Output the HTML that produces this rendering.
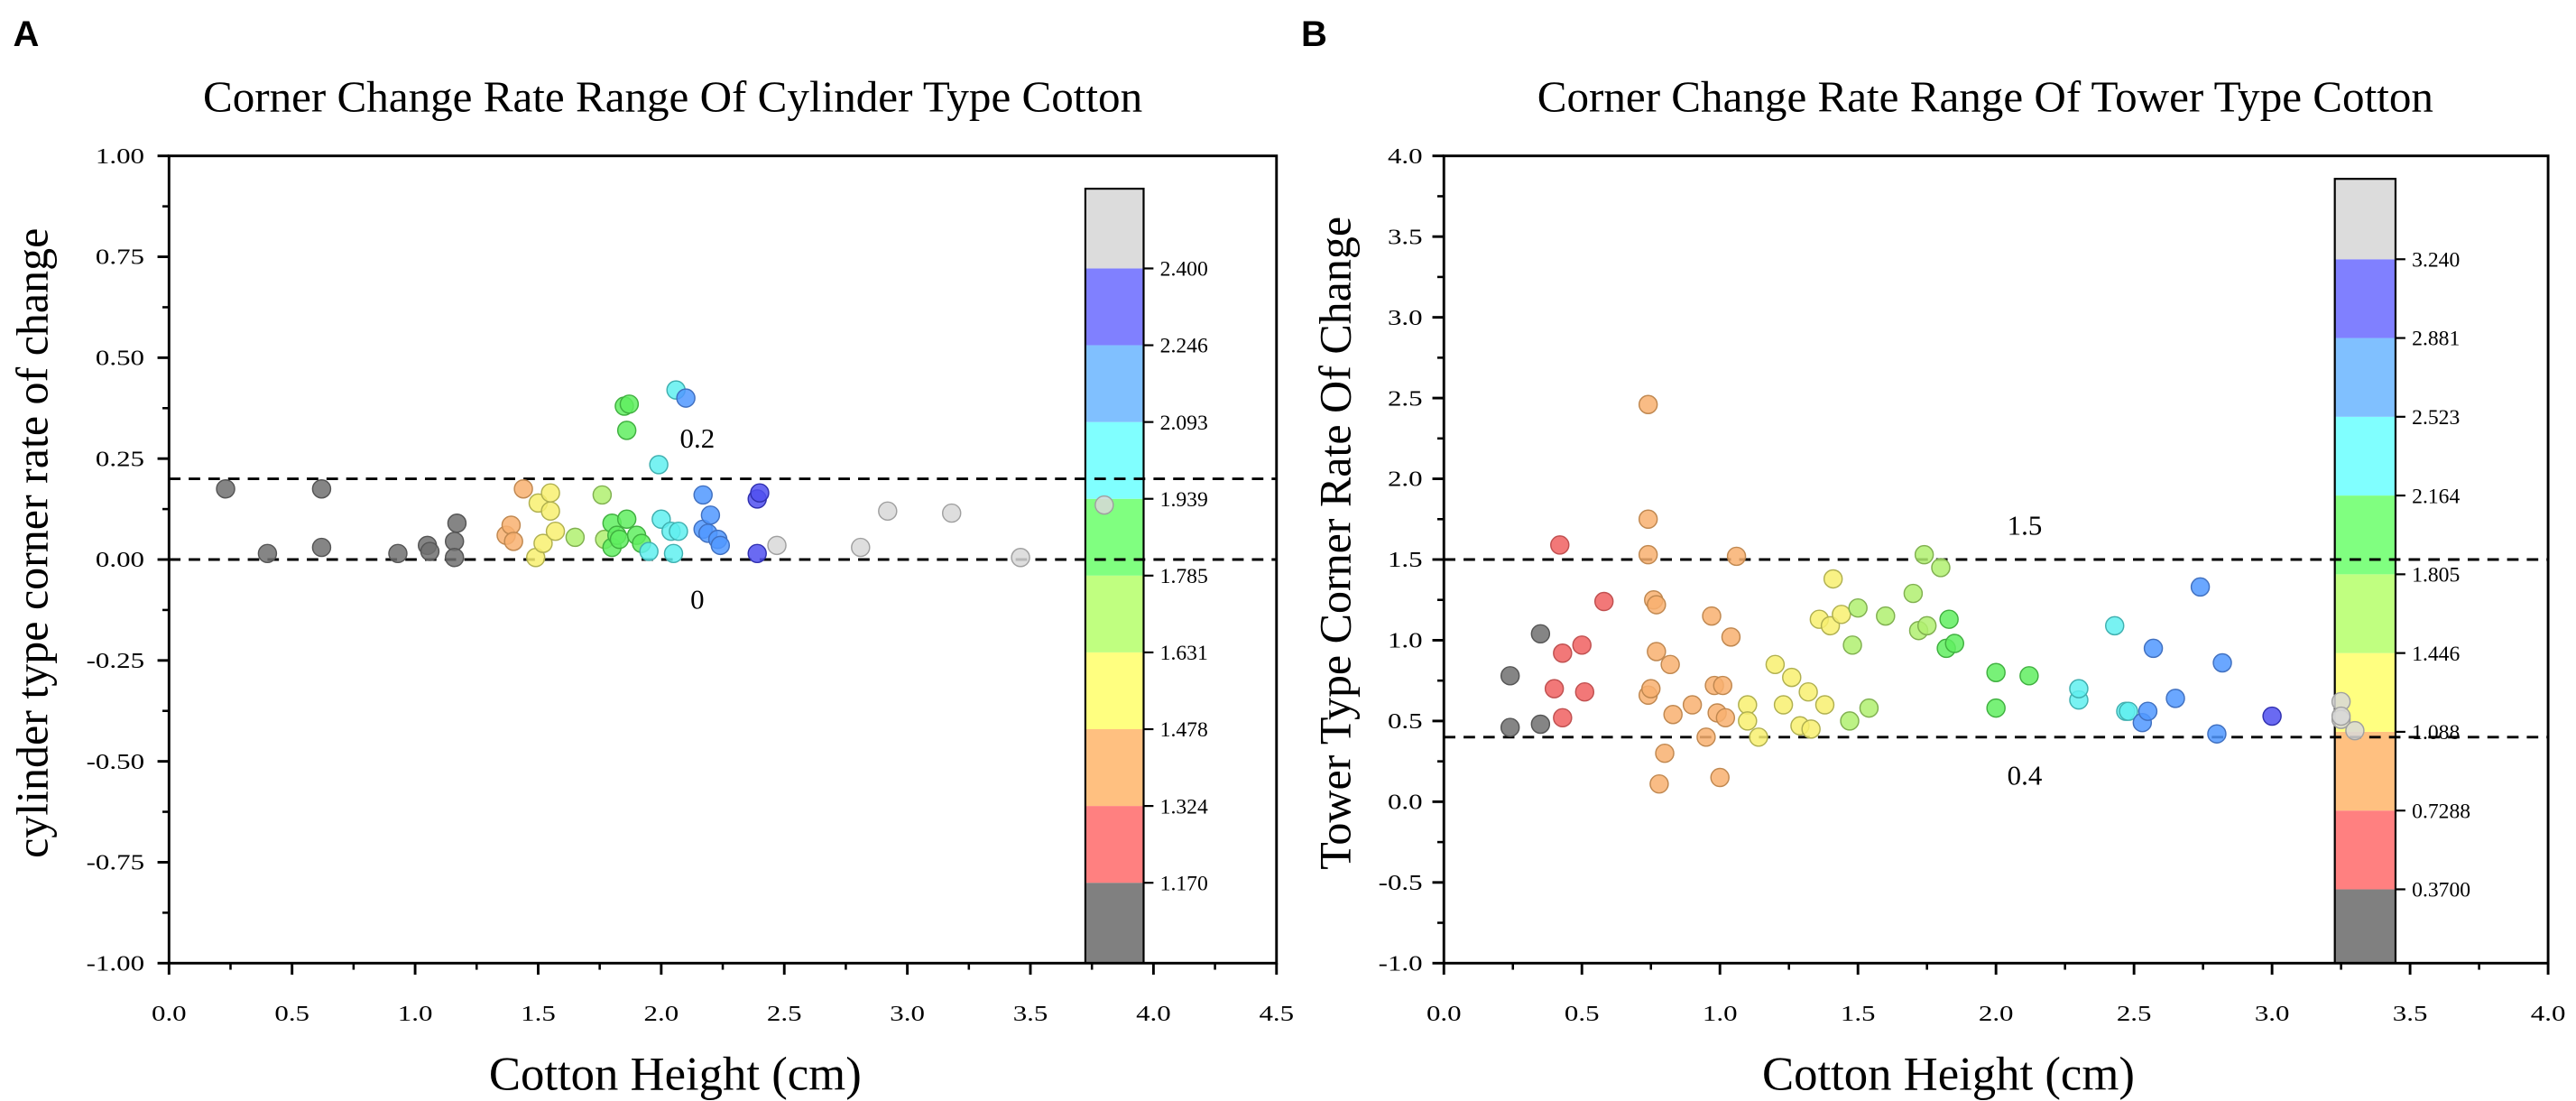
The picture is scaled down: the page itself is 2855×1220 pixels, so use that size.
<!DOCTYPE html>
<html><head><meta charset="utf-8"><style>
html,body{margin:0;padding:0;background:#fff;}
svg{display:block;}
text{font-family:"Liberation Serif",serif;fill:#000;}
</style></head><body>
<svg id="fig" width="2855" height="1220" viewBox="0 0 1570 671" preserveAspectRatio="none" xmlns="http://www.w3.org/2000/svg"></svg>
<script>
// Panel A data
const aX=[0.23,0.62,0.4,0.62,0.93,1.05,1.06,1.16,1.17,1.16,1.37,1.39,1.4,1.44,1.49,1.5,1.52,1.55,1.55,1.57,1.65,1.76,1.77,1.8,1.8,1.82,1.83,1.85,1.86,1.86,1.87,1.9,1.92,1.95,1.99,2.0,2.04,2.05,2.06,2.07,2.1,2.17,2.17,2.19,2.2,2.23,2.24,2.39,2.4,2.39,2.47,2.81,2.92,3.18,3.46,3.8];
const aY=[0.175,0.175,0.015,0.03,0.015,0.035,0.02,0.045,0.09,0.005,0.06,0.085,0.045,0.175,0.005,0.14,0.04,0.165,0.12,0.07,0.055,0.16,0.05,0.09,0.03,0.06,0.05,0.38,0.32,0.1,0.385,0.06,0.04,0.02,0.235,0.1,0.07,0.015,0.42,0.07,0.4,0.16,0.075,0.065,0.11,0.05,0.035,0.15,0.165,0.015,0.035,0.03,0.12,0.115,0.005,0.135];
const aXTicks=[0,0.5,1,1.5,2,2.5,3,3.5,4,4.5];
const aXTickLabels=["0.0","0.5","1.0","1.5","2.0","2.5","3.0","3.5","4.0","4.5"];
const aYTicks=[1,0.75,0.5,0.25,0,-0.25,-0.5,-0.75,-1];
const aYTickLabels=["1.00","0.75","0.50","0.25","0.00","-0.25","-0.50","-0.75","-1.00"];
const aLevels=[1.170,1.324,1.478,1.631,1.785,1.939,2.093,2.246,2.400];
const aLevelLabels=["1.170","1.324","1.478","1.631","1.785","1.939","2.093","2.246","2.400"];
const aRefLines=[0.2,0];
const aRefLabels=["0.2","0"];
// Panel B data
const bX=[0.24,0.24,0.35,0.35,0.4,0.42,0.43,0.43,0.5,0.51,0.58,0.74,0.74,0.74,0.74,0.75,0.76,0.77,0.77,0.78,0.8,0.82,0.83,0.9,0.95,0.97,0.98,0.99,1.0,1.01,1.02,1.04,1.06,1.1,1.1,1.14,1.2,1.23,1.26,1.29,1.32,1.33,1.36,1.38,1.4,1.41,1.44,1.47,1.48,1.5,1.54,1.6,1.7,1.72,1.74,1.75,1.8,1.82,1.83,1.85,2.0,2.0,2.12,2.3,2.3,2.43,2.47,2.48,2.53,2.55,2.57,2.65,2.74,2.8,2.82,3.0,3.25,3.25,3.25,3.3];
const bY=[0.78,0.46,1.04,0.48,0.7,1.59,0.92,0.52,0.97,0.68,1.24,2.46,1.75,1.53,0.66,0.7,1.25,1.22,0.93,0.11,0.3,0.85,0.54,0.6,0.4,1.15,0.72,0.55,0.15,0.72,0.52,1.02,1.52,0.6,0.5,0.4,0.85,0.6,0.77,0.47,0.68,0.45,1.13,0.6,1.09,1.38,1.16,0.5,0.97,1.2,0.58,1.15,1.29,1.06,1.53,1.09,1.45,0.95,1.13,0.98,0.8,0.58,0.78,0.63,0.7,1.09,0.56,0.56,0.49,0.56,0.95,0.64,1.33,0.42,0.86,0.53,0.62,0.51,0.53,0.44];
const bXTicks=[0,0.5,1,1.5,2,2.5,3,3.5,4];
const bXTickLabels=["0.0","0.5","1.0","1.5","2.0","2.5","3.0","3.5","4.0"];
const bYTicks=[4,3.5,3,2.5,2,1.5,1,0.5,0,-0.5,-1];
const bYTickLabels=["4.0","3.5","3.0","2.5","2.0","1.5","1.0","0.5","0.0","-0.5","-1.0"];
const bLevels=[0.37,0.7288,1.088,1.446,1.805,2.164,2.523,2.881,3.240];
const bLevelLabels=["0.3700","0.7288","1.088","1.446","1.805","2.164","2.523","2.881","3.240"];
const bRefLines=[1.5,0.4];
const bRefLabels=["1.5","0.4"];

const colors=["#808080","#ff8080","#ffc080","#ffff80","#c0ff80","#80ff80","#80ffff","#80c0ff","#8080ff","#dcdcdc"];
const pcolors=["#707070","#f06060","#f8b070","#f8f070","#b0f070","#60ee60","#60f0f0","#5098ff","#5050f0","#d8d8d8"];
const strokes=["#555","#c05050","#c08850","#b0b050","#80b050","#40b040","#40b0b0","#4070c0","#3030b0","#a0a0a0"];
const NS="http://www.w3.org/2000/svg";
const svg=document.getElementById('fig');
function mk(tag,attrs,parent){const e=document.createElementNS(NS,tag);for(const k in attrs)e.setAttribute(k,attrs[k]);(parent||svg).appendChild(e);return e;}
function txt(s,attrs,parent){const e=mk('text',attrs,parent);e.textContent=s;return e;}
function colorIdx(v,levels){let i=0;while(i<levels.length&&v>levels[i])i++;return i;}

function panel(cfg){
  const g=mk('g',{});
  
  
  const sx=v=>cfg.x0+(v-cfg.xmin)/(cfg.xmax-cfg.xmin)*(cfg.x1-cfg.x0);
  const sy=v=>cfg.y1-(v-cfg.ymin)/(cfg.ymax-cfg.ymin)*(cfg.y1-cfg.y0);
  const L=txt(cfg.letter,{x:cfg.letterX,y:28,'font-size':22,'font-weight':'bold',style:'font-family:"Liberation Sans",sans-serif'},g);
  
  const t=txt(cfg.title,{x:cfg.titleX,y:68,'font-size':27,'text-anchor':'middle'},g);
  
  const cb=mk('g',{},g);
  const n=cfg.levels.length;
  const bounds=[cfg.cbBottom];
  for(let i=0;i<n;i++)bounds.push(cfg.cbFirst-i*cfg.cbStep);
  bounds.push(cfg.cbTop);
  for(let i=0;i<=n;i++){
    const r=mk('rect',{x:cfg.cbX,y:bounds[i+1],width:cfg.cbW,height:bounds[i]-bounds[i+1],fill:colors[i]},cb);
    
  }
  mk('rect',{x:cfg.cbX,y:cfg.cbTop,width:cfg.cbW,height:cfg.cbBottom-cfg.cbTop,fill:'none',stroke:'#000','stroke-width':1.2},cb);
  for(let i=0;i<n;i++){
    const y=bounds[i+1];
    mk('line',{x1:cfg.cbX+cfg.cbW,x2:cfg.cbX+cfg.cbW+6,y1:y,y2:y,stroke:'#000','stroke-width':1.2},cb);
    const l=txt(cfg.levelLabels[i],{x:cfg.cbX+cfg.cbW+10,y:y+4.5,'font-size':13},cb);
    
  }
  cfg.ref.forEach((v,i)=>{
    const ln=mk('line',{x1:cfg.x0,x2:cfg.x1,y1:sy(v),y2:sy(v),stroke:'#000','stroke-width':1.6,'stroke-dasharray':'7,5'},g);
    
    const l=txt(cfg.refLabels[i],{x:cfg.refLabelX,y:sy(v)+cfg.refOff[i],'font-size':17,'text-anchor':'middle'},g);
    
  });
  const pts=mk('g',{},g);
  cfg.xs.forEach((xv,i)=>{
    const ci=colorIdx(xv,cfg.levels);
    const c=mk('circle',{cx:sx(xv),cy:sy(cfg.ys[i]),r:5.5,fill:pcolors[ci],'fill-opacity':0.85,stroke:strokes[ci],'stroke-width':0.8},pts);
    
    
  });
  const fr=mk('rect',{x:cfg.x0,y:cfg.y0,width:cfg.x1-cfg.x0,height:cfg.y1-cfg.y0,fill:'none',stroke:'#000','stroke-width':1.6},g);
  
  const xa=mk('g',{},g);
  cfg.xTicks.forEach((v,i)=>{
    mk('line',{x1:sx(v),x2:sx(v),y1:cfg.y1,y2:cfg.y1+7,stroke:'#000','stroke-width':1.6},xa);
    if(i<cfg.xTicks.length-1){const m=(v+cfg.xTicks[i+1])/2;mk('line',{x1:sx(m),x2:sx(m),y1:cfg.y1,y2:cfg.y1+4,stroke:'#000','stroke-width':1.4},xa);}
    const l=txt(cfg.xTickLabels[i],{x:0,y:0,'font-size':17,'text-anchor':'middle',transform:`translate(${sx(v)},${cfg.y1+35}) scale(1,0.8)`},xa);
    
  });
  const xl=txt('Cotton Height (cm)',{x:(cfg.x0+cfg.x1)/2-29,y:664,'font-size':29,'text-anchor':'middle'},g);
  
  const ya=mk('g',{},g);
  cfg.yTicks.forEach((v,i)=>{
    mk('line',{x1:cfg.x0-7,x2:cfg.x0,y1:sy(v),y2:sy(v),stroke:'#000','stroke-width':1.6},ya);
    if(i<cfg.yTicks.length-1){const m=(v+cfg.yTicks[i+1])/2;mk('line',{x1:cfg.x0-4,x2:cfg.x0,y1:sy(m),y2:sy(m),stroke:'#000','stroke-width':1.4},ya);}
    const l=txt(cfg.yTickLabels[i],{x:0,y:0,'font-size':17,'text-anchor':'end',transform:`translate(${cfg.x0-cfg.yTickGap},${sy(v)+4.5}) scale(1,0.8)`},ya);
    
  });
  const yl=txt(cfg.ylabel,{x:0,y:0,'font-size':27.5,'text-anchor':'middle',transform:`translate(${cfg.ylabelX},${(cfg.y0+cfg.y1)/2-10}) rotate(-90)`},g);
  
}

panel({name:'panel-a-cylinder',letter:'A',letterX:8,title:'Corner Change Rate Range Of Cylinder Type Cotton',titleX:410,
  x0:103,x1:778,y0:95,y1:587,xmin:0,xmax:4.5,ymin:-1,ymax:1,xs:aX,ys:aY,
  xTicks:aXTicks,xTickLabels:aXTickLabels,yTicks:aYTicks,yTickLabels:aYTickLabels,yTickGap:15,
  levels:aLevels,levelLabels:aLevelLabels,cbX:661.5,cbW:35.5,cbTop:115,cbBottom:587,cbFirst:538,cbStep:46.8,
  ref:aRefLines,refLabels:aRefLabels,refLabelX:425,refOff:[-19,30],ylabel:'cylinder type corner rate of change',ylabelX:29});
panel({name:'panel-b-tower',letter:'B',letterX:793,title:'Corner Change Rate Range Of Tower Type Cotton',titleX:1210,
  x0:880,x1:1553,y0:95,y1:587,xmin:0,xmax:4,ymin:-1,ymax:4,xs:bX,ys:bY,
  xTicks:bXTicks,xTickLabels:bXTickLabels,yTicks:bYTicks,yTickLabels:bYTickLabels,yTickGap:13,
  levels:bLevels,levelLabels:bLevelLabels,cbX:1423,cbW:37,cbTop:109,cbBottom:587,cbFirst:542,cbStep:48,
  ref:bRefLines,refLabels:bRefLabels,refLabelX:1234,refOff:[-15,29],ylabel:'Tower Type Corner Rate Of Change',ylabelX:823});
</script>
</body></html>
